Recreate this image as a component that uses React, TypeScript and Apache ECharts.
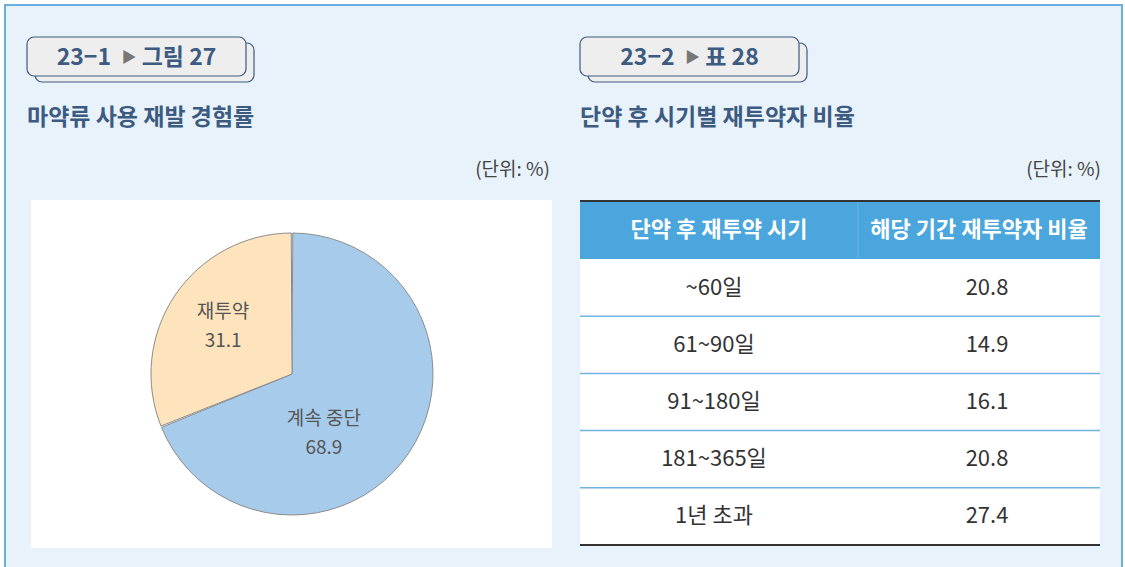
import React, { useEffect, useRef } from "react";
import * as echarts from "echarts";

const pieNames = ["계속 중단", "재투약"];
const pieValues = [68.9, 31.1];
const pieColors = ["#a7cbeb", "#fde4bc"];
const tableHeaders = ["단약 후 재투약 시기", "해당 기간 재투약자 비율"];
const periods = ["~60일", "61~90일", "91~180일", "181~365일", "1년 초과"];
const rates = [20.8, 14.9, 16.1, 20.8, 27.4];
const badgeCodes = ["23−1", "23−2"];
const badgeRefs = ["그림 27", "표 28"];
const titles = ["마약류 사용 재발 경험률", "단약 후 시기별 재투약자 비율"];
const unitLabel = "(단위: %)";

const FONT = '"Noto Sans CJK KR", "Noto Sans", sans-serif';
const NAVY = "#3d5a80";

function buildGraphics() {
  const g: any[] = [];
  g.push({
    type: "rect",
    z: -10,
    shape: { x: 5, y: 5, width: 1117, height: 620 },
    style: { fill: "#e8f2fb", stroke: "#6aaee0", lineWidth: 2 },
  });
  const lefts = [27, 580];
  const badgeW = [219, 219];
  const unitRight = [550, 1101];
  for (let i = 0; i < 2; i++) {
    const x0 = lefts[i];
    g.push({
      type: "rect",
      z: -5,
      shape: { x: x0 + 8, y: 43, width: badgeW[i], height: 39, r: 7 },
      style: { fill: "#eeeeee", stroke: NAVY, lineWidth: 1.2 },
    });
    g.push({
      type: "rect",
      z: -4,
      shape: { x: x0, y: 37, width: badgeW[i], height: 39, r: 7 },
      style: { fill: "#eeeeee", stroke: NAVY, lineWidth: 1.2 },
    });
    g.push({
      type: "text",
      z: -3,
      style: {
        x: x0 + badgeW[i] / 2,
        y: 55,
        align: "center",
        verticalAlign: "middle",
        text: `{a|${badgeCodes[i]}  }{t|▶}{a| ${badgeRefs[i]}}`,
        rich: {
          a: { fontFamily: FONT, fontSize: 23, fontWeight: "bold", fill: NAVY },
          t: { fontFamily: FONT, fontSize: 15, fill: "#777777" },
        },
      },
    });
    g.push({
      type: "text",
      z: -3,
      style: {
        x: x0,
        y: 115,
        verticalAlign: "middle",
        text: titles[i],
        fontFamily: FONT,
        fontSize: 23,
        fontWeight: "bold",
        fill: NAVY,
      },
    });
    g.push({
      type: "text",
      z: -3,
      style: {
        x: unitRight[i],
        y: 167,
        align: "right",
        verticalAlign: "middle",
        text: unitLabel,
        fontFamily: FONT,
        fontSize: 19,
        fill: "#444444",
      },
    });
  }
  g.push({
    type: "rect",
    z: -5,
    shape: { x: 31, y: 200, width: 521, height: 348 },
    style: { fill: "#ffffff" },
  });
  const tx = 580;
  const tw = 520;
  const split = 858;
  const headTop = 201;
  const headH = 58;
  const rowH = 57.2;
  const bodyTop = headTop + headH;
  const headCx = [719, 979];
  const bodyCx = [714, 987];
  g.push({
    type: "rect",
    z: -5,
    shape: { x: tx, y: headTop, width: tw, height: headH },
    style: { fill: "#4aa6dc" },
  });
  g.push({
    type: "rect",
    z: -5,
    shape: { x: tx, y: bodyTop, width: tw, height: rowH * periods.length },
    style: { fill: "#ffffff" },
  });
  g.push({
    type: "line",
    z: -4,
    shape: { x1: split, y1: headTop, x2: split, y2: bodyTop },
    style: { stroke: "rgba(255,255,255,0.2)", lineWidth: 1 },
  });
  g.push({
    type: "line",
    z: -3,
    shape: { x1: tx, y1: headTop, x2: tx + tw, y2: headTop },
    style: { stroke: "#333333", lineWidth: 2 },
  });
  tableHeaders.forEach((h, c) => {
    g.push({
      type: "text",
      z: -3,
      style: {
        x: headCx[c],
        y: headTop + headH / 2 - 3,
        align: "center",
        verticalAlign: "middle",
        text: h,
        fontFamily: FONT,
        fontSize: 22,
        fontWeight: "bold",
        fill: "#ffffff",
      },
    });
  });
  periods.forEach((p, r) => {
    const cy = bodyTop + rowH * (r + 0.5) - 3;
    const cells = [p, rates[r].toFixed(1)];
    cells.forEach((txt, c) => {
      g.push({
        type: "text",
        z: -3,
        style: {
          x: bodyCx[c],
          y: cy,
          align: "center",
          verticalAlign: "middle",
          text: txt,
          fontFamily: FONT,
          fontSize: 22,
          fill: "#333333",
        },
      });
    });
    const ly = bodyTop + rowH * (r + 1);
    const last = r === periods.length - 1;
    g.push({
      type: "line",
      z: -3,
      shape: { x1: tx, y1: ly, x2: tx + tw, y2: ly },
      style: { stroke: last ? "#333333" : "#6fb4e3", lineWidth: last ? 2 : 1.5 },
    });
  });
  return g;
}

const labelOffsets = [
  [-29, 16],
  [-8, -9],
];

export default function App() {
  const ref = useRef<HTMLDivElement>(null);
  useEffect(() => {
    document.body.style.margin = "0";
    if (!ref.current) return;
    const chart = echarts.init(ref.current, undefined, { renderer: "svg" });
    chart.setOption({
      animation: false,
      backgroundColor: "#ffffff",
      graphic: { elements: buildGraphics() },
      series: [
        {
          type: "pie",
          center: [292, 374],
          radius: 141,
          startAngle: 90,
          clockwise: true,
          padAngle: 0.6,
          silent: true,
          emphasis: { disabled: true },
          itemStyle: { borderColor: "#8c8c8c", borderWidth: 1 },
          data: pieNames.map((n, i) => ({
            name: n,
            value: pieValues[i],
            itemStyle: { color: pieColors[i] },
          })),
          label: {
            show: true,
            position: "inside",
            formatter: "{b}\n{c}",
            fontFamily: FONT,
            fontSize: 19,
            lineHeight: 29,
            color: "#555555",
          },
          labelLine: { show: false },
          labelLayout: (p: any) => ({
            dx: labelOffsets[p.dataIndex][0],
            dy: labelOffsets[p.dataIndex][1],
          }),
        },
      ],
    });
    return () => chart.dispose();
  }, []);
  return (
    <div
      ref={ref}
      style={{ position: "absolute", left: 0, top: 0, width: 1125, height: 567 }}
    />
  );
}
